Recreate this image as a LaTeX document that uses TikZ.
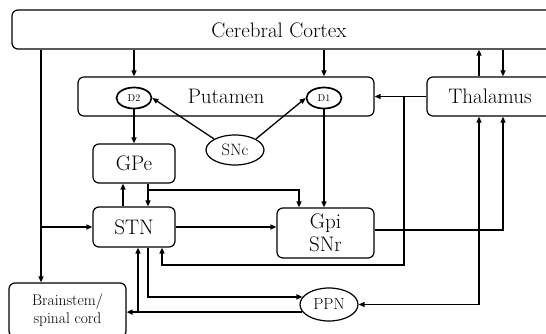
\documentclass[tikz,border=0pt]{standalone}
\usetikzlibrary{arrows.meta,shapes.geometric}
\begin{document}
\begin{tikzpicture}[x=1pt,y=-1pt,
  box/.style={draw,line width=1.2pt,rounded corners=6pt,inner sep=0pt,align=center},
  oval/.style={draw,ellipse,line width=1.2pt,inner sep=0pt},
  receptor/.style={oval,line width=1.7pt,minimum width=35pt,minimum height=21pt,font=\fontsize{10}{11}\selectfont},
  lab/.style={font=\fontsize{21}{23}\selectfont},
  conn/.style={line width=1.3pt},
  arr/.style={conn,-{Triangle[length=6pt,width=5pt]}},
  biarr/.style={conn,{Triangle[length=6pt,width=5pt]}-{Triangle[length=6pt,width=5pt]}}
]
\useasboundingbox (0,0) rectangle (546,334);

% boxes and nuclei
\node[box,minimum width=548pt,minimum height=39pt] (cortex) at (286,29.5) {};
\node[lab] (cortexlabel) at (279,30) {Cerebral Cortex};
\node[box,lab,minimum width=126pt,minimum height=39pt] (thalamus) at (490,96.5) {Thalamus};
\node[box,lab,minimum width=296pt,minimum height=39pt] (putamen) at (226,96.5) {Putamen};
\node[receptor] (d2) at (134,98) {D2};
\node[receptor] (d1) at (324,98) {D1};
\node[oval,minimum width=58pt,minimum height=30pt,font=\fontsize{16.5}{18}\selectfont] (snc) at (235,150) {SNc};
\node[box,lab,minimum width=82pt,minimum height=39pt] (gpe) at (134,163.5) {GPe};
\node[box,lab,minimum width=82pt,minimum height=40pt] (stn) at (134,227) {STN};
\node[box,lab,minimum width=97pt,minimum height=50pt] (gpi) at (325.5,233) {Gpi\\SNr};
\node[oval,minimum width=58pt,minimum height=33pt,font=\fontsize{16}{18}\selectfont] (ppn) at (329,304.5) {PPN};
\node[box,minimum width=117pt,minimum height=54pt,font=\fontsize{15.5}{18.5}\selectfont] (brainstem) at (67.5,310) {Brainstem/\\spinal cord};

% x and y positions of the routed connectors
\coordinate (lx) at (41,0);
\coordinate (tup) at (479,0);
\coordinate (tdn) at (503,0);
\coordinate (tbr) at (404,0);
\coordinate (stnin) at (162,0);
\coordinate (stnup) at (138,0);
\coordinate (stnppn) at (148,0);
\coordinate (gpestn) at (148,0);
\coordinate (stngpe) at (123,0);
\coordinate (gpix) at (299,0);
\coordinate (split) at (0,190);
\coordinate (lowret) at (0,265);
\coordinate (gpiout) at (0,230);

% cortical outputs
\draw[arr] (cortex.south -| lx) -- (brainstem.north -| lx);
\draw[arr] (lx |- stn.west) -- (stn.west);
\draw[arr] (cortex.south -| d2) -- (putamen.north -| d2);
\draw[arr] (cortex.south -| d1) -- (putamen.north -| d1);
\draw[arr] (thalamus.north -| tup) -- (cortex.south -| tup);
\draw[arr] (cortex.south -| tdn) -- (thalamus.north -| tdn);

% thalamic outputs
\draw[arr] (thalamus.west) -- (putamen.east);
\draw[arr] (tbr |- thalamus.west) -- (tbr |- lowret) -- (stnin |- lowret) -- (stn.south -| stnin);

% striatal pathways
\draw[arr] (snc.north west) -- (d2.east);
\draw[arr] (snc.north east) -- (d1.west);
\draw[arr] (d2.south) -- (gpe.north -| d2);
\draw[arr] (d1.south) -- (gpi.north -| d1);

% GPe / STN loop
\draw[arr] (stn.north -| stngpe) -- (gpe.south -| stngpe);
\draw[arr] (gpe.south -| gpestn) -- (stn.north -| gpestn);
\draw[arr] (gpestn |- split) -- (gpix |- split) -- (gpi.north -| gpix);
\draw[arr] (stn.east) -- (stn.east -| gpi.west);

% output nuclei
\draw[arr] (gpi.east |- gpiout) -- (tdn |- gpiout) -- (thalamus.south -| tdn);
\draw[biarr] (ppn.east) -- (tup |- ppn.east) -- (thalamus.south -| tup);
\draw[arr] (stn.south -| stnppn) |- (ppn.164);
\draw[arr] (ppn.196) -- (brainstem.east |- ppn.196);
\draw[arr] (stnup |- ppn.196) -- (stn.south -| stnup);
\end{tikzpicture}
\end{document}
